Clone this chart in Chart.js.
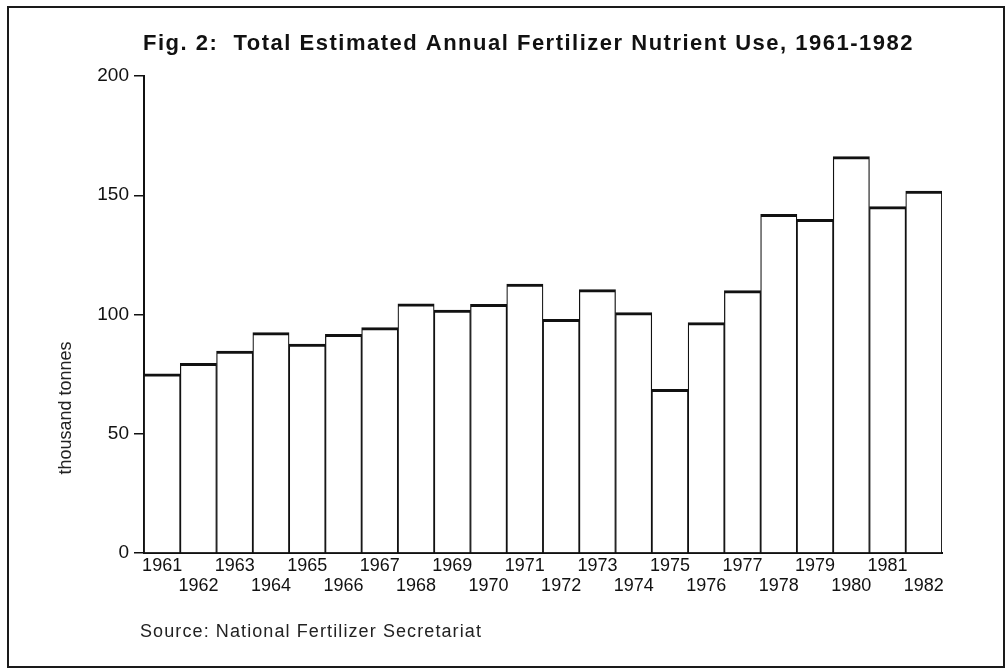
<!DOCTYPE html>
<html lang="en">
<head>
    <meta charset="UTF-8">
    <title>Fig. 2: Total Estimated Annual Fertilizer Nutrient Use, 1961-1982</title>
    <script src="https://cdn.jsdelivr.net/npm/chart.js"></script>
    <style>
        html, body { margin: 0; padding: 0; background: #fff; }
        .figure { position: relative; width: 1006px; height: 669px; }
        .frame {
            position: absolute;
            left: 7px; top: 6px;
            width: 994px; height: 658px;
            border: 2px solid #1a1a1a;
        }
        #fertChart { position: absolute; left: 0; top: 0; }
    </style>
</head>
<body>
    <div class="figure">
        <div class="frame"></div>
        <canvas id="fertChart" width="1006" height="669"></canvas>
    </div>

    <script>
        // values (thousand tonnes)
        const years = [1961, 1962, 1963, 1964, 1965, 1966, 1967, 1968, 1969, 1970, 1971,
                       1972, 1973, 1974, 1975, 1976, 1977, 1978, 1979, 1980, 1981, 1982];
        const nutrientUse = [75.1, 79.5, 84.7, 92.4, 87.6, 91.7, 94.5, 104.5, 101.9, 104.3, 112.8,
                             98.0, 110.4, 100.8, 68.6, 96.6, 110.0, 142.0, 139.9, 166.2, 145.2, 151.8];
        const yTicks = [0, 50, 100, 150, 200];

        const titleText = 'Fig. 2:  Total Estimated Annual Fertilizer Nutrient Use, 1961-1982';
        const yTitleText = 'thousand tonnes';
        const sourceText = 'Source: National Fertilizer Secretariat';

        const fontFamily = '"Liberation Sans", Arial, Helvetica, sans-serif';
        const ink = '#111';

        // odd years on the first row, even years on the second
        const stagger = years.map((y, i) => i % 2 === 0 ? [String(y), ''] : ['', String(y)]);

        // title, rotated axis title and source line
        const figureText = {
            id: 'figureText',
            afterDraw(chart) {
                const ctx = chart.ctx;
                ctx.save();
                ctx.fillStyle = ink;
                ctx.textBaseline = 'alphabetic';
                ctx.textAlign = 'left';
                ctx.font = 'bold 22px ' + fontFamily;
                ctx.letterSpacing = '1.5px';
                ctx.fillText(titleText, 143, 50);

                ctx.font = '18px ' + fontFamily;
                ctx.letterSpacing = '1.1px';
                ctx.fillStyle = '#222';
                ctx.fillText(sourceText, 140, 637);

                ctx.letterSpacing = '0px';
                ctx.translate(66, 408);
                ctx.rotate(-Math.PI / 2);
                ctx.textAlign = 'center';
                ctx.textBaseline = 'middle';
                ctx.fillText(yTitleText, 0, 0);
                ctx.restore();
            }
        };

        new Chart(document.getElementById('fertChart'), {
            type: 'bar',
            data: {
                labels: stagger,
                datasets: [{
                    label: 'Fertilizer nutrient use',
                    data: nutrientUse,
                    backgroundColor: '#fff',
                    borderColor: ink,
                    borderWidth: { top: 3, left: 1.25, right: 1.25, bottom: 0 },
                    borderSkipped: 'start',
                    categoryPercentage: 1,
                    barPercentage: 1
                }]
            },
            options: {
                responsive: false,
                animation: false,
                layout: { padding: { top: 76, right: 64, bottom: 0, left: 0 } },
                plugins: {
                    legend: { display: false },
                    tooltip: { enabled: false },
                    title: { display: false }
                },
                scales: {
                    x: {
                        grid: { display: false, drawTicks: false },
                        border: { display: true, color: ink, width: 2 },
                        ticks: {
                            color: ink,
                            autoSkip: false,
                            maxRotation: 0,
                            padding: 3,
                            font: { family: fontFamily, size: 18, lineHeight: 1.1 }
                        },
                        afterFit(scale) { scale.height = 116; }
                    },
                    y: {
                        min: 0,
                        max: 200,
                        afterBuildTicks(scale) {
                            scale.ticks = yTicks.map(v => ({ value: v }));
                        },
                        grid: {
                            drawOnChartArea: false,
                            drawTicks: true,
                            tickLength: 10,
                            color: ink,
                            lineWidth: 1.5
                        },
                        border: { display: true, color: ink, width: 2 },
                        ticks: {
                            color: ink,
                            padding: 5,
                            font: { family: fontFamily, size: 19 }
                        },
                        afterFit(scale) { scale.width = 144; }
                    }
                }
            },
            plugins: [figureText]
        });
    </script>
</body>
</html>
